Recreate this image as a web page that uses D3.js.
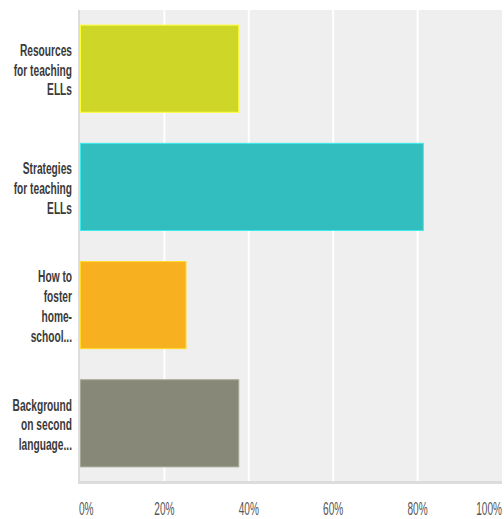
<!DOCTYPE html>
<html>
<head>
<meta charset="utf-8">
<script src="https://cdn.jsdelivr.net/npm/d3@7"></script>
<style>
  body { margin: 0; background: #fff; }
</style>
</head>
<body>
<div id="chart"></div>
<script>
// answer choices (labels already wrapped as shown)
var categories = [
  ["Resources", "for teaching", "ELLs"],
  ["Strategies", "for teaching", "ELLs"],
  ["How to", "foster", "home-", "school..."],
  ["Background", "on second", "language..."]
];
var values = [37.5, 81.25, 25, 37.5];
var barColors = ["#ced628", "#32bdbe", "#f7b020", "#878878"];
var tickValues = [0, 20, 40, 60, 80, 100];

var mrg = { top: 10, right: 2, bottom: 37, left: 80 },
    svgWidth = 504 - mrg.left - mrg.right,
    svgHeight = 519 - mrg.top - mrg.bottom;

var svg = d3.select("#chart")
  .append("svg")
  .attr("width", 504)
  .attr("height", 519);

var chart = svg.append("g")
  .attr("transform", `translate(${mrg.left}, ${mrg.top})`);

var xScale = d3.scaleLinear().domain([0, 100]).range([0, svgWidth]);
var yScale = d3.scaleBand()
  .domain(d3.range(categories.length))
  .range([0, svgHeight])
  .paddingInner(0.263)
  .paddingOuter(0.128);

// plot background
chart.append("rect")
  .attr("x", 0).attr("y", 0)
  .attr("width", svgWidth).attr("height", svgHeight)
  .attr("fill", "#efefef");

// vertical gridlines
chart.selectAll(".grid")
  .data(tickValues.slice(1, -1))
  .enter()
  .append("line")
  .attr("x1", function (d) { return xScale(d); })
  .attr("x2", function (d) { return xScale(d); })
  .attr("y1", 0).attr("y2", svgHeight)
  .attr("stroke", "#fff")
  .attr("stroke-width", 2);

// bars
chart.selectAll(".bar")
  .data(values)
  .enter()
  .append("rect")
  .attr("class", "bar")
  .attr("x", 0.5)
  .attr("y", function (d, i) { return yScale(i); })
  .attr("width", function (d) { return xScale(d); })
  .attr("height", yScale.bandwidth())
  .attr("fill", function (d, i) { return barColors[i]; })
  .attr("stroke", function (d, i) { return d3.color(barColors[i]).brighter(0.6); })
  .attr("stroke-width", 1);

// left axis line and bottom band
chart.append("line")
  .attr("x1", -1).attr("x2", -1)
  .attr("y1", 0).attr("y2", svgHeight + 2)
  .attr("stroke", "#dcdcdc").attr("stroke-width", 2);
chart.append("rect")
  .attr("x", -2).attr("y", svgHeight - 1)
  .attr("width", svgWidth + 2).attr("height", 3)
  .attr("fill", "#dcdcdc");

// category labels
var lineH = 19.8;
categories.forEach(function (lines, i) {
  var cy = yScale(i) + yScale.bandwidth() / 2;
  lines.forEach(function (t, j) {
    var by = cy + (j - (lines.length - 1) / 2) * lineH + 7;
    chart.append("text")
      .attr("transform", `translate(-8, ${by}) scale(0.6, 1)`)
      .attr("text-anchor", "end")
      .attr("font-family", "Liberation Sans, Arial, sans-serif")
      .attr("font-weight", "bold")
      .attr("font-size", 17)
      .attr("fill", "#3a3a3a")
      .text(t);
  });
});

// x tick labels
tickValues.forEach(function (v, i) {
  var anchor = i === 0 ? "start" : (i === tickValues.length - 1 ? "end" : "middle");
  chart.append("text")
    .attr("transform", `translate(${xScale(v) + (i === 0 ? -1 : 0)}, ${svgHeight + 33}) scale(0.56, 1)`)
    .attr("text-anchor", anchor)
    .attr("font-family", "Liberation Sans, Arial, sans-serif")
    .attr("font-size", 18)
    .attr("fill", "#555")
    .text(v + "%");
});
</script>
</body>
</html>
